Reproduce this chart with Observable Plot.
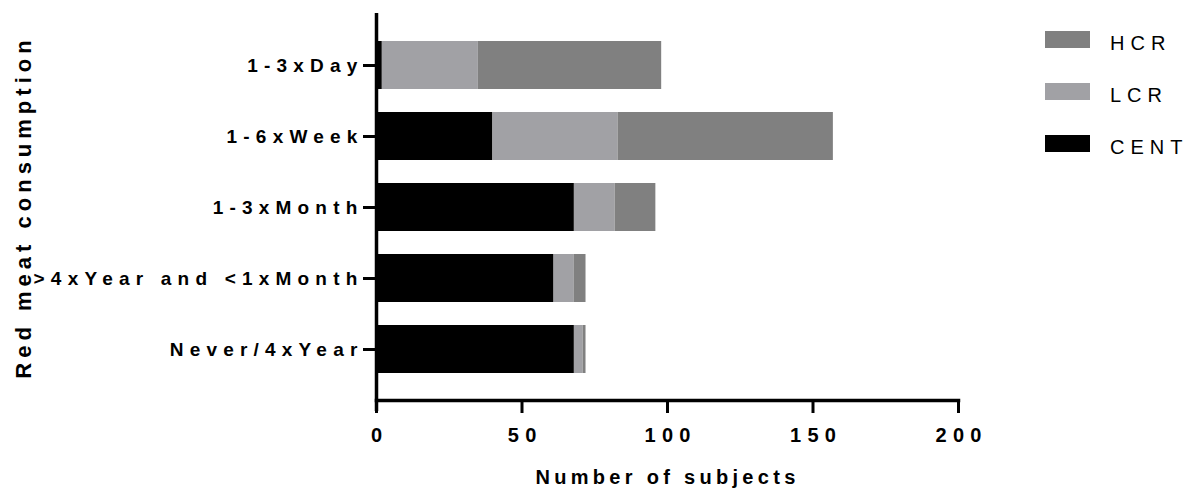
<!DOCTYPE html>
<html>
<head>
<meta charset="utf-8">
<script src="https://cdn.jsdelivr.net/npm/d3@7"></script>
<script src="https://cdn.jsdelivr.net/npm/@observablehq/plot@0.6"></script>
<style>
  html, body { margin: 0; padding: 0; background: #fff; }
  #wrap { position: relative; width: 1197px; height: 493px; font-family: "Liberation Sans", Arial, sans-serif; }
  #wrap svg { position: absolute; left: 0; top: 0; }
  .leg-sw { position: absolute; left: 1045px; width: 45px; height: 17px; }
  .leg-tx { position: absolute; left: 1110px; font-size: 20px; letter-spacing: 6px; color: #000; line-height: 20px; }
</style>
</head>
<body>
<div id="wrap"></div>
<script>
const categories = ["1-3xDay", "1-6xWeek", "1-3xMonth", ">4xYear and <1xMonth", "Never/4xYear"];
const seriesNames = ["CENT", "LCR", "HCR"];
const centValues = [2, 40, 68, 61, 68];
const lcrValues = [33, 43, 14, 7, 3];
const hcrValues = [63, 74, 14, 4, 1];
const xTicks = [0, 50, 100, 150, 200];
const seriesColors = ["#000000", "#a1a1a5", "#808080"];
const legendOrder = ["HCR", "LCR", "CENT"];
const xTitle = "Number of subjects";
const yTitle = "Red meat consumption";

const valuesBySeries = {CENT: centValues, LCR: lcrValues, HCR: hcrValues};
const data = [];
for (const s of seriesNames) {
  categories.forEach((c, i) => data.push({cat: c, series: s, value: valuesBySeries[s][i]}));
}

const font = "'Liberation Sans', Arial, sans-serif";

const chart = Plot.plot({
  width: 1197,
  height: 493,
  marginLeft: 376,
  marginRight: 239,
  marginTop: 13,
  marginBottom: 93,
  style: {fontFamily: font, color: "#000", background: "transparent"},
  x: {domain: [0, 200], axis: null},
  y: {domain: categories, paddingInner: 0.33, paddingOuter: 0.37, axis: null},
  color: {domain: seriesNames, range: seriesColors},
  marks: [
    Plot.barX(data, {x: "value", y: "cat", fill: "series", order: seriesNames}),
    Plot.ruleX([0], {stroke: "#000", strokeWidth: 3.5, insetBottom: -11}),
    Plot.frame({anchor: "bottom", stroke: "#000", strokeWidth: 3.5}),
    Plot.axisY({tickSize: 13, tickPadding: 0, strokeWidth: 3, fontSize: 19, fontWeight: "bold", label: null}),
    Plot.axisX({ticks: xTicks, tickSize: 13, tickPadding: 14, strokeWidth: 3, fontSize: 20, fontWeight: "bold", label: null}),
    Plot.text([xTitle], {frameAnchor: "bottom", textAnchor: "middle", lineAnchor: "middle", dy: 77, fontSize: 20, fontWeight: "bold"}),
    Plot.text([yTitle], {frameAnchor: "left", textAnchor: "middle", lineAnchor: "middle", dx: -353, rotate: -90, fontSize: 22, fontWeight: "bold"})
  ]
});

const svg = d3.select(chart);
svg.selectAll('[aria-label="y-axis tick label"] text').style("letter-spacing", "6.2px");
svg.selectAll('[aria-label="x-axis tick label"] text').style("letter-spacing", "6.3px").attr("dx", 3.15);
svg.selectAll("text").filter(function() { return this.textContent === xTitle; }).style("letter-spacing", "4.3px");
svg.selectAll("text").filter(function() { return this.textContent === yTitle; }).style("letter-spacing", "5px");

const wrap = document.getElementById("wrap");
wrap.appendChild(chart);

const colorOf = Object.fromEntries(seriesNames.map((s, i) => [s, seriesColors[i]]));
const swTops = [31, 83, 135];
legendOrder.forEach((s, i) => {
  const sw = document.createElement("div");
  sw.className = "leg-sw";
  sw.style.top = swTops[i] + "px";
  sw.style.background = colorOf[s];
  wrap.appendChild(sw);
  const tx = document.createElement("div");
  tx.className = "leg-tx";
  tx.style.top = (swTops[i] + 2) + "px";
  tx.textContent = s;
  wrap.appendChild(tx);
});
</script>
</body>
</html>
